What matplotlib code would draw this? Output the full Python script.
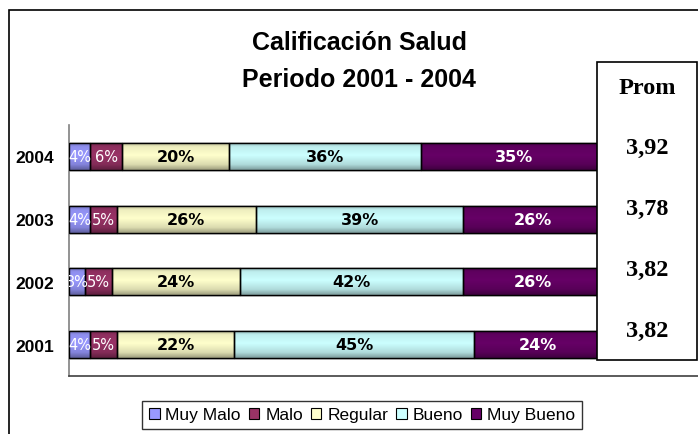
import numpy as np
import matplotlib
matplotlib.use('Agg')
import matplotlib.pyplot as plt
from matplotlib.patches import Rectangle
from matplotlib.colors import to_rgb

# datos (porcentajes por categoria)
years = ['2001', '2002', '2003', '2004']
categories = ['Muy Malo', 'Malo', 'Regular', 'Bueno', 'Muy Bueno']
muy_malo = [4, 3, 4, 4]
malo = [5, 5, 5, 6]
regular = [22, 24, 26, 20]
bueno = [45, 42, 39, 36]
muy_bueno = [24, 26, 26, 35]
prom = ['3,82', '3,82', '3,78', '3,92']

colors = ['#9999FF', '#993366', '#FFFFCC', '#CCFFFF', '#660066']
label_colors = ['white', 'white', 'black', 'black', 'white']
label_sizes = [10.5, 10.5, 11.5, 11.5, 11.5]
label_weights = ['normal', 'normal', 'bold', 'bold', 'bold']

W, H = 698, 435
fig = plt.figure(figsize=(W / 100, H / 100), dpi=100)
plt.rcParams['font.family'] = ['Liberation Sans', 'DejaVu Sans']

# area del grafico
ax = fig.add_axes([69 / W, 1 - 377 / H, (W - 69) / W, (377 - 126) / H])

series = [muy_malo, malo, regular, bueno, muy_bueno]
y = np.arange(len(years))
bar_h = 0.43
left = np.zeros(len(years))

# perfil de sombreado vertical (efecto cilindro)
t = np.linspace(0, 1, 40)
shade = np.interp(t, [0, 0.12, 0.45, 0.8, 1], [0.72, 0.93, 1.0, 0.86, 0.62])

for k, vals in enumerate(series):
    vals = np.array(vals, dtype=float)
    bars = ax.barh(y, vals, left=left, height=bar_h, color=colors[k],
                   edgecolor='black', linewidth=1.0, label=categories[k], zorder=2)
    base = np.array(to_rgb(colors[k]))
    grad = (shade[:, None] * base[None, :])[:, None, :]
    for b in bars:
        x0, y0 = b.get_x(), b.get_y()
        im = ax.imshow(grad, extent=(x0, x0 + b.get_width(), y0, y0 + b.get_height()),
                       origin='upper', aspect='auto', interpolation='bilinear', zorder=2.5)
        im.set_clip_path(b)
        ax.add_patch(Rectangle((x0, y0), b.get_width(), b.get_height(), fill=False,
                               edgecolor='black', linewidth=1.0, zorder=3))
    for i, v in enumerate(vals):
        ax.text(left[i] + v / 2, y[i], f'{v:.0f}%', ha='center', va='center',
                color=label_colors[k], fontsize=label_sizes[k],
                fontweight=label_weights[k], family='DejaVu Sans',
                clip_on=True, zorder=4)
    left += vals

ax.set_xlim(0, 118)
ax.set_ylim(-0.5, 3.5)
ax.set_xticks([])
ax.set_yticks(y)
ax.set_yticklabels(years, fontsize=12.5, fontweight='bold')
ax.tick_params(axis='y', length=0, pad=11)
for s in ['top', 'right']:
    ax.spines[s].set_visible(False)
ax.spines['left'].set_color('#808080')
ax.spines['left'].set_linewidth(1.2)
ax.spines['bottom'].set_color('#404040')
ax.spines['bottom'].set_linewidth(1.2)

# titulo
fig.text(359 / W, 1 - 43 / H, 'Calificación Salud', ha='center', va='center',
         fontsize=18, fontweight='bold')
fig.text(359 / W, 1 - 80 / H, 'Periodo 2001 - 2004', ha='center', va='center',
         fontsize=18, fontweight='bold')

# cuadro de promedios
fig.add_artist(Rectangle((597 / W, 1 - 361 / H), 100 / W, (361 - 63) / H,
                         transform=fig.transFigure, facecolor='white',
                         edgecolor='black', linewidth=1.2, zorder=5))
fig.text(647 / W, 1 - 88 / H, 'Prom', ha='center', va='center', fontsize=17.5,
         fontweight='bold', family='Liberation Serif', zorder=6)
prom_y = [331, 270, 209, 148]
for p, py in zip(prom, prom_y):
    fig.text(647 / W, 1 - py / H, p, ha='center', va='center', fontsize=17.5,
             fontweight='bold', family='Liberation Serif', zorder=6)

# marco exterior
fig.add_artist(Rectangle((9 / W, -0.1), 2, 1 - 11 / H + 0.1, transform=fig.transFigure,
                         fill=False, edgecolor='black', linewidth=1.2, zorder=0))

# leyenda
handles = [Rectangle((0, 0), 1, 1, facecolor=c, edgecolor='black', linewidth=0.8) for c in colors]
leg = fig.legend(handles, categories, loc='center', ncol=5,
                 bbox_to_anchor=(362 / W, 1 - 416 / H), fontsize=12.5,
                 frameon=True, fancybox=False, edgecolor='black',
                 handlelength=0.62, handleheight=0.6, handletextpad=0.33,
                 columnspacing=0.45, borderpad=0.4, borderaxespad=0)
leg.get_frame().set_linewidth(1.0)

fig.savefig('out.png', dpi=100)
